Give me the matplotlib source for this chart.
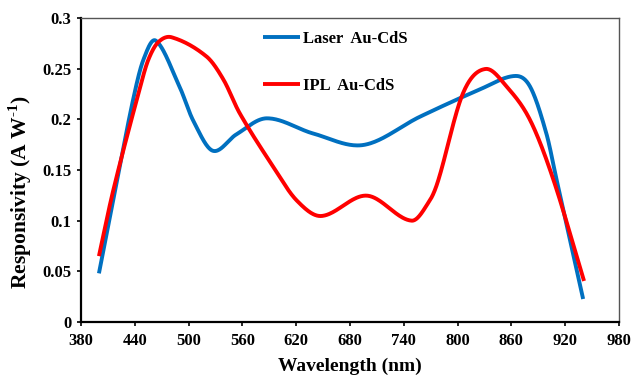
import numpy as np
import matplotlib
matplotlib.use("Agg")
import matplotlib.pyplot as plt

plt.rcParams['font.family'] = ['Liberation Serif', 'DejaVu Serif']
plt.rcParams['font.weight'] = 'bold'
plt.rcParams['mathtext.fontset'] = 'custom'
plt.rcParams['mathtext.rm'] = 'Liberation Serif:bold'
plt.rcParams['mathtext.bf'] = 'Liberation Serif:bold'

# values (nm, A/W)
laser_wl = [400, 418, 438, 449.5, 463.5, 490, 505, 527, 553, 587, 639, 695, 758, 825, 864, 881, 899, 910.5, 940]
laser_r = [0.048, 0.130, 0.219, 0.2586, 0.2776, 0.232, 0.199, 0.169, 0.185, 0.201, 0.186, 0.1747, 0.2026,
           0.2296, 0.2428, 0.232, 0.186, 0.140, 0.0227]
ipl_wl = [400, 416, 446, 455, 466, 481, 520, 539, 557, 594.5, 620.5, 648, 698.6, 748.8, 769, 778.5,
          806, 831, 855, 881, 907, 941]
ipl_r = [0.065, 0.130, 0.232, 0.2586, 0.276, 0.281, 0.262, 0.239, 0.206, 0.153, 0.120, 0.1046,
         0.1247, 0.100, 0.120, 0.140, 0.2257, 0.2497, 0.232, 0.199, 0.140, 0.0405]

xticks = [380, 440, 500, 560, 620, 680, 740, 800, 860, 920, 980]
yticks = [0, 0.05, 0.1, 0.15, 0.2, 0.25, 0.3]
ytick_labels = ['0', '0.05', '0.1', '0.15', '0.2', '0.25', '0.3']


def smooth(xs, ys, n=40):
    # cubic hermite with centred slopes, close to a spreadsheet smoothed line
    x = np.asarray(xs, float)
    y = np.asarray(ys, float)
    m = np.zeros_like(y)
    m[1:-1] = (y[2:] - y[:-2]) / (x[2:] - x[:-2])
    m[0] = (y[1] - y[0]) / (x[1] - x[0])
    m[-1] = (y[-1] - y[-2]) / (x[-1] - x[-2])
    px, py = [], []
    for k in range(len(x) - 1):
        h = x[k + 1] - x[k]
        t = np.linspace(0, 1, n, endpoint=False)
        h00 = 2 * t**3 - 3 * t**2 + 1
        h10 = t**3 - 2 * t**2 + t
        h01 = -2 * t**3 + 3 * t**2
        h11 = t**3 - t**2
        px.append(x[k] + t * h)
        py.append(h00 * y[k] + h10 * h * m[k] + h01 * y[k + 1] + h11 * h * m[k + 1])
    px.append([x[-1]])
    py.append([y[-1]])
    return np.concatenate(px), np.concatenate(py)


fig = plt.figure(figsize=(6.42, 3.76), dpi=100)
ax = fig.add_axes([81 / 642, 1 - 322 / 376, 538 / 642, 304 / 376])

x, y = smooth(laser_wl, laser_r)
ax.plot(x, y, color='#0070C0', lw=2.8, label='Laser  Au-CdS', solid_capstyle='butt')
x, y = smooth(ipl_wl, ipl_r)
ax.plot(x, y, color='#FF0000', lw=2.8, label='IPL  Au-CdS', solid_capstyle='butt')

ax.set_xlim(380, 980)
ax.set_ylim(0, 0.3)
ax.set_xticks(xticks)
ax.set_yticks(yticks)
ax.set_yticklabels(ytick_labels)
ax.tick_params(direction='out', length=3, width=1.2, labelsize=12)
ax.tick_params(axis='x', pad=5)
ax.tick_params(axis='y', pad=4)
for lab in ax.get_xticklabels() + ax.get_yticklabels():
    lab.set_fontweight('bold')

for s in ['left', 'bottom']:
    ax.spines[s].set_linewidth(1.6)
    ax.spines[s].set_color('black')
for s in ['top', 'right']:
    ax.spines[s].set_linewidth(1.0)
    ax.spines[s].set_color('#555555')

ax.set_xlabel('Wavelength (nm)', fontsize=14, fontweight='bold')
ax.set_ylabel('Responsivity (A W$^{\u20101}$)', fontsize=15.5, fontweight='bold')
ax.xaxis.set_label_coords(0.5, -0.117)
ax.yaxis.set_label_coords(-0.087, 0.426)

ax.legend(loc='upper left', bbox_to_anchor=(263 / 642, 1 - 31 / 376),
          bbox_transform=fig.transFigure, frameon=False,
          prop={'size': 12, 'weight': 'bold'}, labelspacing=1.85,
          handlelength=2.2, handletextpad=0.2, borderpad=0, borderaxespad=0)

fig.savefig('out.png', dpi=100)
